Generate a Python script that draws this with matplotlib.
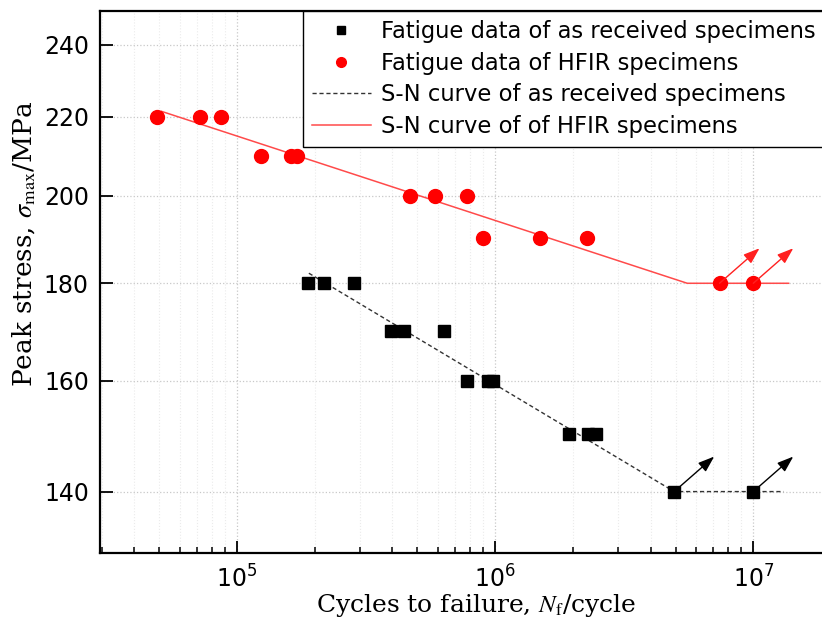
"""
S-N fatigue data of as received and HFIR irradiated specimens.
"""

import matplotlib
matplotlib.use("Agg")
import matplotlib.pyplot as plt
from matplotlib.ticker import LogLocator, NullLocator, NullFormatter

# fatigue data, HFIR specimens
hfir_cycles = [4.9e4, 7.2e4, 8.7e4, 1.24e5, 1.62e5, 1.71e5, 4.7e5, 5.85e5,
	7.8e5, 9.0e5, 1.49e6, 2.27e6, 7.4e6, 1.0e7]
hfir_stress = [220, 220, 220, 210, 210, 210, 200, 200, 200, 190, 190, 190,
	180, 180]

# fatigue data, as received specimens
ar_cycles = [1.88e5, 2.17e5, 2.84e5, 3.95e5, 4.44e5, 6.34e5, 7.8e5, 9.4e5,
	9.8e5, 1.94e6, 2.29e6, 2.46e6, 4.94e6, 1.0e7]
ar_stress = [180, 180, 180, 170, 170, 170, 160, 160, 160, 150, 150, 150,
	140, 140]

# S-N curves
hfir_curve_n = [5.1e4, 5.55e6, 1.37e7]
hfir_curve_s = [221.5, 180, 180]
ar_curve_n = [1.9e5, 4.94e6, 1.31e7]
ar_curve_s = [182.2, 140, 140]

# run-out specimens (no failure)
hfir_runout_n = [7.4e6, 1.0e7]
hfir_runout_s = [180, 180]
ar_runout_n = [4.94e6, 1.0e7]
ar_runout_s = [140, 140]

y_ticks = [140, 160, 180, 200, 220, 240]

LABEL_AR = "Fatigue data of as received specimens"
LABEL_HFIR = "Fatigue data of HFIR specimens"
LABEL_AR_CURVE = "S-N curve of as received specimens"
LABEL_HFIR_CURVE = "S-N curve of of HFIR specimens"

plt.rcParams["mathtext.fontset"] = "stix"
plt.rcParams["font.family"] = "DejaVu Sans"

figure = plt.figure(figsize=(8.22, 6.25), dpi=100)
ax = figure.add_axes([100 / 822, 72 / 625, 731 / 822, 542 / 625])

ax.plot(ar_curve_n, ar_curve_s, color="#333333", lw=1.0,
	linestyle=(0, (3, 2)), label=LABEL_AR_CURVE, zorder=2)
ax.plot(hfir_curve_n, hfir_curve_s, color="#ff4a4a", lw=1.1,
	label=LABEL_HFIR_CURVE, zorder=2)
ax.plot(ar_cycles, ar_stress, "s", color="black", ms=9, ls="none",
	label=LABEL_AR, zorder=3)
ax.plot(hfir_cycles, hfir_stress, "o", color="#ff0000", ms=10, ls="none",
	label=LABEL_HFIR, zorder=3)

arrow_style = "<|-,head_length=0.7,head_width=0.25"
for n, s in zip(ar_runout_n, ar_runout_s):
	ax.annotate("", xy=(n, s), xytext=(40, 35), textcoords="offset pixels",
		arrowprops=dict(arrowstyle=arrow_style, color="black", lw=1.0,
			mutation_scale=14, shrinkA=0, shrinkB=0), zorder=4)
for n, s in zip(hfir_runout_n, hfir_runout_s):
	ax.annotate("", xy=(n, s), xytext=(40, 35), textcoords="offset pixels",
		arrowprops=dict(arrowstyle=arrow_style, color="#ff2020", lw=1.0,
			mutation_scale=14, shrinkA=0, shrinkB=0), zorder=4)

ax.set_xscale("log")
ax.set_yscale("log")
ax.set_xlim(2.95e4, 2e7)
ax.set_ylim(130, 250)

ax.xaxis.set_major_locator(LogLocator(base=10, numticks=10))
ax.xaxis.set_minor_locator(LogLocator(base=10, subs=range(2, 10), numticks=20))
ax.xaxis.set_minor_formatter(NullFormatter())
ax.set_yticks(y_ticks, labels=[str(v) for v in y_ticks])
ax.yaxis.set_minor_locator(NullLocator())

ax.tick_params(which="major", direction="in", length=9, width=1.3,
	labelsize=17, pad=8, right=False)
ax.tick_params(which="minor", direction="in", length=4.5, width=1.1)
ax.tick_params(axis="x", which="major", pad=9)

ax.grid(True, which="major", color="#c8c8c8", linestyle=":", lw=0.9)
ax.grid(True, which="minor", axis="x", color="#ebebeb", linestyle=":", lw=0.8)
ax.set_axisbelow(True)
for spine in ax.spines.values():
	spine.set_linewidth(1.6)
ax.spines["right"].set_visible(False)

ax.set_xlabel("Cycles to failure, $N_{\\rm f}$/cycle", family="DejaVu Serif",
	fontsize=18)
ax.xaxis.set_label_coords(0.514, -0.072)
ax.set_ylabel("Peak stress, $\\sigma_{\\rm max}$/MPa", family="DejaVu Serif",
	fontsize=19)
ax.yaxis.set_label_coords(-0.085, 0.57)

handles, labels = ax.get_legend_handles_labels()
order = [2, 3, 0, 1]
legend = ax.legend([handles[i] for i in order], [labels[i] for i in order],
	loc="upper left", bbox_to_anchor=(203 / 731, 0.0, 0.75, 1.0),
	mode="expand", fontsize=16.3,
	frameon=True, fancybox=False, edgecolor="black", framealpha=1,
	borderaxespad=0, handlelength=2.6, handletextpad=0.45, labelspacing=0.38,
	markerscale=0.7, borderpad=0.4)
legend.get_frame().set_linewidth(1.0)

figure.savefig("out.png", dpi=100)
